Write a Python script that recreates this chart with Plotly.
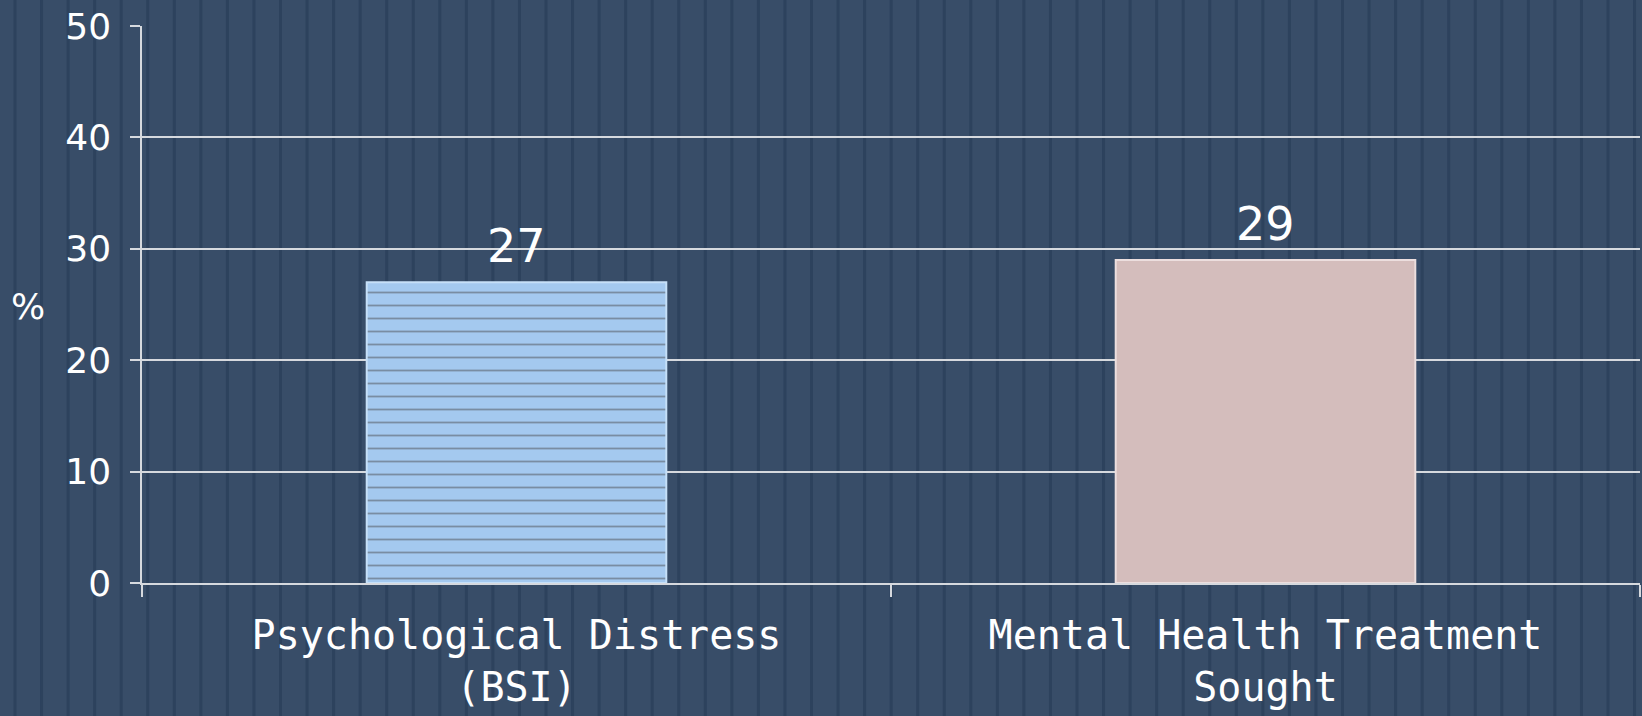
import plotly.graph_objects as go

categories = ["Psychological Distress<br>(BSI)", "Mental Health Treatment<br>Sought"]
values = [27, 29]
bar_colors = ["#a4c9ef", "#d4bdbc"]
bar_edge = ["#c6e0f8", "#ecdede"]
bar_pattern = ["-", ""]
y_ticks = [0, 10, 20, 30, 40, 50]

W, H = 1642, 716
ML, MR, MT, MB = 142, 2, 26, 133
PW, PH = W - ML - MR, H - MT - MB

BG = "#384d68"
STRIPE = "#2d425d"
GRID = "#d6d9de"
WHITE = "#ffffff"

fig = go.Figure()
fig.add_trace(go.Bar(
    x=categories,
    y=values,
    width=0.4,
    marker=dict(
        color=bar_colors,
        line=dict(color=bar_edge, width=2),
        pattern=dict(
            shape=bar_pattern,
            fgcolor="#88acd4",
            fgopacity=0.45,
            size=13,
            solidity=0.14,
            fillmode="overlay",
        ),
    ),
    hoverinfo="skip",
))

# value labels above bars
annotations = []
for c, v in zip(categories, values):
    annotations.append(dict(
        x=c, y=v, xref="x", yref="y", text=str(v),
        xanchor="center", yanchor="bottom", yshift=7, showarrow=False,
        font=dict(family="DejaVu Sans", size=46, color=WHITE),
    ))

annotations.append(dict(
    text="%", xref="paper", yref="paper",
    x=(28 - ML) / PW, y=(MT + PH - 306) / PH,
    xanchor="center", yanchor="middle", showarrow=False,
    font=dict(family="DejaVu Sans", size=36, color=WHITE),
))

# background vertical stripes (decoration)
shapes = []
period = 26.55
k = 0
while True:
    px = 15 + period * k
    if px > W:
        break
    xp = (px - ML) / PW
    shapes.append(dict(
        type="line", xref="paper", yref="paper",
        x0=xp, x1=xp, y0=-(MB + 5) / PH, y1=1 + (MT + 5) / PH,
        line=dict(color=STRIPE, width=3), layer="below",
    ))
    k += 1

fig.update_layout(
    width=W, height=H,
    margin=dict(l=ML, r=MR, t=MT, b=MB, autoexpand=False),
    paper_bgcolor=BG,
    plot_bgcolor="rgba(0,0,0,0)",
    showlegend=False,
    shapes=shapes,
    annotations=annotations,
    xaxis=dict(
        type="category",
        showgrid=False,
        showline=True, linecolor=GRID, linewidth=1.5,
        ticks="outside", ticklen=12, tickcolor=GRID, tickwidth=1.5,
        tickson="boundaries",
        tickfont=dict(family="DejaVu Sans Mono", size=40, color=WHITE),
        ticklabelstandoff=16,
        zeroline=False,
    ),
    yaxis=dict(
        range=[0, 50],
        tickvals=y_ticks,
        ticktext=[str(t) for t in y_ticks],
        showgrid=True, gridcolor=GRID, gridwidth=1.5,
        showline=True, linecolor=GRID, linewidth=1.5,
        ticks="outside", ticklen=10, tickcolor=GRID, tickwidth=1.5,
        tickfont=dict(family="DejaVu Sans", size=36, color=WHITE),
        ticklabelstandoff=12,
        zeroline=False,
    ),
)

fig.write_html(
    "out.html",
    config={"displayModeBar": False},
    post_script="document.body.style.margin='0';document.body.style.overflow='hidden';",
)
